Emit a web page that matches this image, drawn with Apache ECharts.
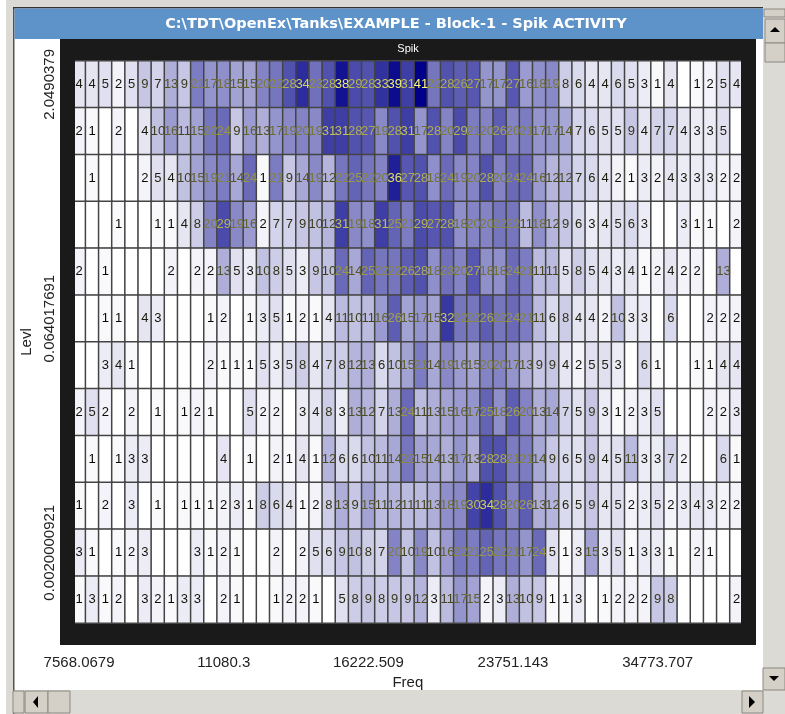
<!DOCTYPE html>
<html><head><meta charset="utf-8">
<style>html,body{margin:0;padding:0;background:#fff}#c{width:785px;height:714px}</style>
<script src="https://cdn.jsdelivr.net/npm/echarts@6/dist/echarts.min.js"></script>
</head><body><div id="c"></div>
<script>
const freqTicks = ['7568.0679','11080.3','16222.509','23751.143','34773.707'];
const levelTicks = ['2.0490379','0.064017691','0.0020000921'];
const windowTitle = 'C:\\TDT\\OpenEx\\Tanks\\EXAMPLE - Block-1 - Spik ACTIVITY';
const panelTitle = 'Spik';
// rows top to bottom, 51 frequency columns; 0 = empty cell
const row01 = [4,4,5,2,5,9,7,13,9,21,17,18,15,15,20,22,28,34,23,28,38,29,28,33,39,31,41,22,28,26,27,17,17,27,16,18,19,8,6,4,4,6,5,3,1,4,0,1,2,5,4];
const row02 = [2,1,0,2,0,4,10,16,11,15,22,24,9,16,13,17,19,20,19,31,31,28,27,19,28,31,17,28,20,29,21,20,26,20,21,17,17,14,7,6,5,5,9,4,7,7,4,3,3,5,0];
const row03 = [0,1,0,0,0,2,5,4,10,15,19,21,14,24,1,21,9,14,19,12,22,25,22,20,36,27,28,18,24,19,20,28,20,24,24,16,12,12,7,6,4,2,1,3,2,4,3,3,3,2,2];
const row04 = [0,0,0,1,0,0,1,1,4,8,20,29,19,16,2,7,7,9,10,12,31,19,18,31,25,21,29,27,28,18,20,20,22,22,11,18,12,9,6,3,4,5,6,3,0,0,3,1,1,0,2];
const row05 = [2,0,1,0,0,0,0,2,0,2,2,13,5,3,10,8,5,3,9,10,24,14,25,22,22,26,28,18,23,20,27,18,18,24,21,11,11,5,8,5,4,3,4,1,2,4,2,2,0,13,0];
const row06 = [0,0,1,1,0,4,3,0,0,0,1,2,0,1,3,5,1,2,1,4,11,10,11,16,26,15,17,15,32,22,22,26,22,24,21,11,6,8,4,4,2,10,3,3,0,6,0,0,2,2,2];
const row07 = [0,0,3,4,1,0,0,0,0,0,2,1,1,1,5,3,5,8,4,7,8,12,13,6,10,15,21,14,19,16,15,20,20,17,13,9,9,4,2,5,5,3,0,6,1,0,0,1,1,4,4];
const row08 = [2,5,2,0,2,0,1,0,1,2,1,0,0,5,2,2,0,3,4,8,3,13,12,7,13,24,11,13,15,16,17,25,18,26,20,13,14,7,5,9,3,1,2,3,5,0,0,0,2,2,3];
const row09 = [0,1,0,1,3,3,0,0,0,0,0,4,0,1,0,2,1,4,1,12,6,6,10,11,14,22,15,14,13,17,13,28,28,21,21,14,9,6,5,9,4,5,11,3,3,7,2,0,0,6,1];
const row10 = [1,0,2,0,3,0,1,0,1,1,1,2,3,1,8,6,4,1,2,8,13,9,15,11,12,11,11,13,18,19,30,34,28,20,26,13,12,6,5,9,4,5,2,3,5,2,3,4,3,2,2];
const row11 = [3,1,0,1,2,3,0,0,0,3,1,2,1,0,0,2,0,2,5,6,9,10,8,7,20,10,19,10,16,22,21,25,22,21,17,24,5,1,3,15,3,5,1,3,3,1,0,2,1,0,0];
const row12 = [1,3,1,2,0,3,2,1,3,3,0,2,1,0,0,1,2,2,1,0,5,8,9,8,9,9,12,3,11,17,15,2,3,13,10,9,1,1,3,0,1,2,2,2,9,8,0,0,0,0,2];
const rows = [row01,row02,row03,row04,row05,row06,row07,row08,row09,row10,row11,row12];

const lowRGB = [255,255,255], highRGB = [0,0,136], maxV = 41;
function invert(v){
  const t = v/maxV;
  const c = lowRGB.map((l,i)=>Math.round(l+(highRGB[i]-l)*t));
  return `rgb(${255-c[0]},${255-c[1]},${255-c[2]})`;
}
const xCats = row01.map((_,i)=> i%11===0 ? freqTicks[i/11] : 'c'+i);
const yCats = rows.map((_,i)=> i%5===0 ? levelTicks[i/5] : 'r'+i);
const cells = [];
rows.forEach((r,y)=>r.forEach((v,x)=>cells.push({value:[x,y,v],label:{color:invert(v)}})));

const font = '"Liberation Sans", Arial, sans-serif';
const rect=(x,y,w,h,fill,z,extra)=>Object.assign({type:'rect',shape:{x,y,width:w,height:h},style:{fill},z:z,silent:true},extra||{});
const button=(x,y,w,h)=>[
  rect(x,y,w,h,'#d4d0c8',1,{style:{fill:'#d4d0c8',stroke:'#8a8880',lineWidth:1}})
];
const tri=(pts)=>({type:'polygon',shape:{points:pts},style:{fill:'#000'},z:2,silent:true});

const chart = echarts.init(document.getElementById('c'),null,{renderer:'canvas'});
chart.setOption({
  animation:false,
  backgroundColor:'#dcdad4',
  textStyle:{fontFamily:font},
  graphic:{elements:[
    rect(0,0,6,714,'#ffffff',-5),
    rect(13,7,750,683,'#ffffff',-4),
    rect(13,7,1.5,707,'#55554f',-3),
    rect(13,7,750,1.5,'#33332f',-3),
    rect(14.5,8.5,748.5,30.5,'#5d93c9',-3),
    rect(60,39,696,606,'#1a1a1a',-2),
    rect(60,39,15,606,'#1a1a1a',100),
    rect(741,39,15,606,'#1a1a1a',100),
    ...button(764,9,21,8),
    ...button(765,19,20,24),
    ...button(765,43,20,19),
    ...button(763,668,22,22),
    ...button(13,691,11,22),
    ...button(25,691,23,22),
    ...button(48,691,22,22),
    ...button(742,691,21,22),
    tri([[775,27],[770,32],[780,32]]),
    tri([[774,681],[769,676],[779,676]]),
    tri([[38,696],[33,702],[38,708]]),
    tri([[749,696],[755,702],[749,708]])
  ]},
  title:[
    {text:windowTitle,left:391,top:12,textAlign:'center',textStyle:{color:'#fff',fontSize:14.5,fontWeight:'bold',fontFamily:'"DejaVu Sans", Verdana, sans-serif'}},
    {text:panelTitle,left:403,top:38,textAlign:'center',textStyle:{color:'#fff',fontSize:11,fontWeight:'normal',fontFamily:font}}
  ],
  grid:{left:72.5,top:61,width:670.6,height:562,containLabel:false},
  xAxis:{type:'category',data:xCats,splitArea:{show:false},
    axisLine:{show:false},axisTick:{show:false},
    axisLabel:{interval:10,hideOverlap:false,margin:32,fontSize:15,color:'#222',fontFamily:font},
    name:'Freq',nameLocation:'middle',nameGap:52,nameTextStyle:{fontSize:15,color:'#222',fontFamily:font}},
  yAxis:{type:'category',data:yCats,inverse:true,splitArea:{show:false},
    axisLine:{show:false},axisTick:{show:false},
    axisLabel:{interval:4,rotate:90,margin:15,fontSize:15,color:'#222',fontFamily:font,hideOverlap:false},
    name:'Levl',nameLocation:'middle',nameRotate:90,nameGap:36,nameTextStyle:{fontSize:15,color:'#222',fontFamily:font}},
  visualMap:{show:false,min:0,max:maxV,dimension:2,seriesIndex:0,inRange:{color:['#ffffff','#000088']}},
  series:[{type:'heatmap',data:cells,
    itemStyle:{borderColor:'#444444',borderWidth:1.5},
    label:{show:true,fontSize:13,fontFamily:font,
      formatter:p=>p.value[2]===0?'':String(p.value[2])},
    emphasis:{disabled:true}}]
});
</script></body></html>
